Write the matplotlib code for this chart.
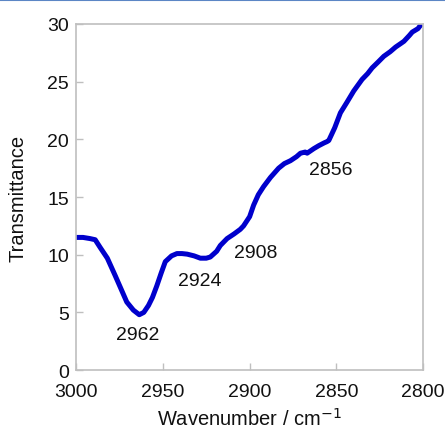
import matplotlib
matplotlib.use("Agg")
import matplotlib.pyplot as plt
from matplotlib.lines import Line2D

plt.rcParams['font.family'] = ['Liberation Sans', 'DejaVu Sans']

# spectrum
wavenumber = [3000, 2996, 2992, 2989, 2986, 2982, 2977.5, 2974, 2970.8, 2967, 2963.6,
              2961, 2958.3, 2956, 2953.5, 2951, 2948.6, 2945, 2941.9, 2939, 2936,
              2932, 2928.4, 2925, 2922.7, 2919, 2916.9, 2913, 2909, 2905.4, 2903.5,
              2900, 2897.7, 2895, 2892, 2888, 2883.3, 2880, 2876.5, 2873, 2870.7,
              2868, 2866.9, 2863, 2860.2, 2857, 2855.5, 2854.4, 2851, 2847.7, 2844,
              2840, 2835.2, 2832, 2829.4, 2826, 2822.7, 2819, 2815.9, 2813, 2811.1,
              2808, 2806.3, 2803, 2801.5, 2800]
transmittance = [11.5, 11.5, 11.4, 11.3, 10.6, 9.7, 8.2, 7.0, 5.9, 5.2, 4.8,
                 5.0, 5.6, 6.3, 7.3, 8.4, 9.4, 9.9, 10.1, 10.1, 10.05,
                 9.9, 9.7, 9.7, 9.8, 10.3, 10.8, 11.4, 11.8, 12.2, 12.5,
                 13.3, 14.3, 15.2, 15.9, 16.7, 17.5, 17.9, 18.15, 18.5, 18.8,
                 18.9, 18.8, 19.2, 19.45, 19.7, 19.8, 19.9, 21.0, 22.3, 23.2,
                 24.2, 25.2, 25.7, 26.2, 26.7, 27.2, 27.6, 28.0, 28.3, 28.5,
                 29.0, 29.3, 29.6, 29.9, 30.0]

peak_labels = ['2962', '2924', '2908', '2856']
label_x = [2964.4, 2928.5, 2896.7, 2853.4]
label_y = [3.1, 7.75, 10.2, 17.4]

fig = plt.figure(figsize=(4.45, 4.31), dpi=100)
ax = fig.add_axes([0.171, 0.139, 0.780, 0.803])

ax.plot(wavenumber, transmittance, color='#0000CC', linewidth=3.6,
        solid_capstyle='round', solid_joinstyle='round')

for txt, lx, ly in zip(peak_labels, label_x, label_y):
    ax.text(lx, ly, txt, ha='center', va='center', fontsize=14, color='#111111')

ax.set_xlim(3000, 2800)
ax.set_ylim(0, 30)
ax.set_xticks([3000, 2950, 2900, 2850, 2800])
ax.set_yticks([0, 5, 10, 15, 20, 25, 30])

for s in ax.spines.values():
    s.set_color('#bfbfbf')
    s.set_linewidth(1.2)
ax.tick_params(direction='in', length=5, width=1, color='#bfbfbf',
               labelsize=14, labelcolor='#111111')
ax.tick_params(axis='x', pad=9)
ax.tick_params(axis='y', pad=5)

ax.set_xlabel('Wavenumber / cm$^{-1}$', fontsize=14.5, color='#111111', labelpad=5)
ax.set_ylabel('Transmittance', fontsize=14.5, color='#111111', labelpad=14)

# thin blue frame line along the top of the picture
fig.add_artist(Line2D([0, 1], [0.998, 0.998], transform=fig.transFigure,
                      color='#5b86c5', linewidth=1.5))

fig.savefig('out.png', dpi=100)
